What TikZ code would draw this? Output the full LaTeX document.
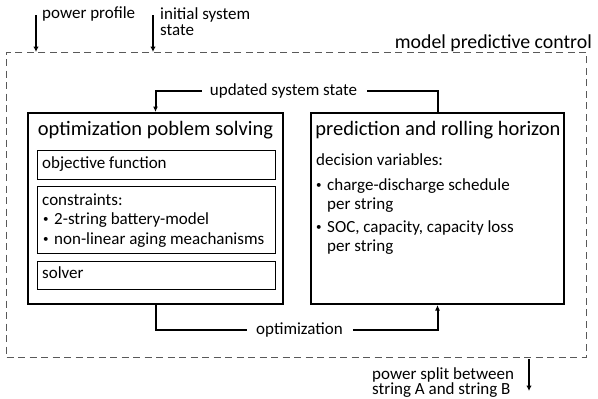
\documentclass[tikz,border=0pt]{standalone}
\usepackage{fontspec}
\setmainfont{Carlito}
\usetikzlibrary{arrows.meta}
\newcommand{\smallbul}{\makebox[11pt][l]{\raisebox{1.6pt}{\fontsize{11}{11}\selectfont\textbullet}}}
\tikzset{
  headfont/.style={font=\fontsize{20.5}{22}\selectfont},
  bodyfont/.style={font=\fontsize{17}{19}\selectfont},
  tightfont/.style={font=\fontsize{17}{14}\selectfont},
  lbl/.style={inner sep=0pt, anchor=west, align=left},
  mainbox/.style={draw, line width=2pt, inner sep=0pt},
  subbox/.style={draw, line width=0.9pt, inner sep=0pt},
  frame/.style={draw=black!65, line width=0.9pt, dash pattern=on 7pt off 4.5pt},
  flow/.style={line width=2pt},
  tip/.style={-{Latex[length=5.5pt,width=5pt]}},
  iotip/.style={line width=1.6pt, -{Latex[length=5.5pt,width=5.5pt]}},
}
\begin{document}
\begin{tikzpicture}[x=1pt,y=-1pt]
\useasboundingbox (0,0) rectangle (598,399);

% model predictive control frame
\node[frame, minimum width=580pt, minimum height=305pt] (mpc) at (296.5,204.5) {};
\node[lbl, font=\fontsize{19.8}{22}\selectfont, anchor=base east] (mpclbl) at (592,48) {model predictive control};

% inputs and output
\coordinate (pin) at (36,15);
\coordinate (pinend) at (36,52);
\coordinate (sin) at (153,15);
\coordinate (sinend) at (153,52);
\draw[iotip] (pin) -- (pinend);
\draw[iotip] (sin) -- (sinend);
\node[lbl, bodyfont] (plbl) at (42,14) {power profile};
\node[lbl, font=\fontsize{17}{16}\selectfont] (slbl) at (160,22) {initial system\\state};
\coordinate (outstart) at (529,359);
\coordinate (outend) at (529,391);
\draw[iotip] (outstart) -- (outend);
\node[lbl, tightfont] (olbl) at (372,382.5) {power split between\\string A and string B};

% optimization problem solving
\node[mainbox, minimum width=255pt, minimum height=191pt] (opt) at (155.5,208.5) {};
\node[inner sep=0pt, headfont] (opttitle) at (155.5,130) {optimization poblem solving};
\node[subbox, minimum width=238pt, minimum height=29pt] (obj) at (156,164.5) {};
\node[lbl, bodyfont] at (42,164) {objective function};
\node[subbox, minimum width=238pt, minimum height=67pt] (con) at (156,219.5) {};
\node[lbl, bodyfont] at (42,200) {constraints:};
\node[lbl, bodyfont] at (43,220) {\smallbul 2-string battery-model};
\node[lbl, bodyfont] at (43,240) {\smallbul non-linear aging meachanisms};
\node[subbox, minimum width=238pt, minimum height=28pt] (sol) at (156,275) {};
\node[lbl, bodyfont] at (42,273) {solver};

% prediction and rolling horizon
\node[mainbox, minimum width=253pt, minimum height=191pt] (pred) at (437.5,208.5) {};
\node[inner sep=0pt, headfont] (predtitle) at (438,130) {prediction and rolling horizon};
\node[lbl, bodyfont] at (316,160) {decision variables:};
\node[lbl, bodyfont] at (316,195.5) {\smallbul charge-discharge schedule\\\hphantom{\smallbul}per string};
\node[lbl, bodyfont] at (316,237.5) {\smallbul SOC, capacity, capacity loss\\\hphantom{\smallbul}per string};

% feedback loops
\node[inner sep=0pt, bodyfont] (upd) at (283.5,91) {updated system state};
\node[inner sep=0pt, bodyfont] (optim) at (299.5,330) {optimization};
\draw[flow] (pred.north) |- ([xshift=10pt]upd.east);
\draw[flow, tip] ([xshift=-8pt]upd.west) -| (opt.north);
\draw[flow] (opt.south) |- ([xshift=-9pt]optim.west);
\draw[flow, tip] ([xshift=10pt]optim.east) -| (pred.south);
\end{tikzpicture}
\end{document}
